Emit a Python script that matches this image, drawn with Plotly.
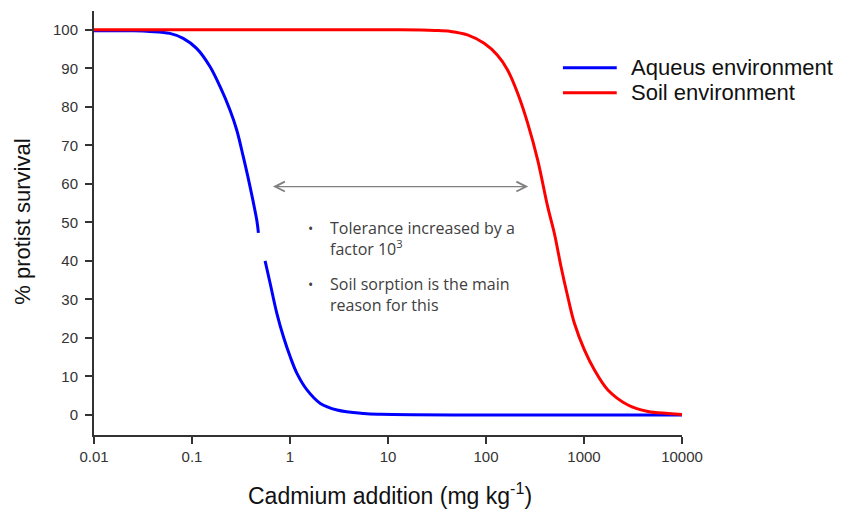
import plotly.graph_objects as go
import math

# ---- data ----
aqueous_x = [0.01, 0.025, 0.0371, 0.0594, 0.0813, 0.1114, 0.1524, 0.193, 0.244, 0.286, 0.334,
             0.391, 0.458, 0.476, None, 0.557, 0.627, 0.734, 0.857, 1.005, 1.177,
             1.49, 2.04, 3.02, 5.65, 8.38, 100, 10000]
aqueous_y = [99.8, 99.75, 99.6, 99.1, 97.8, 95.2, 90.5, 85.3, 79.2, 74.0, 67.0,
             59.3, 50.6, 47.3, None, 40.0, 34.2, 26.4, 20.3, 15.1, 10.8,
             6.5, 3.0, 1.3, 0.4, 0.2, 0.0, 0.0]

soil_x = [0.01, 13.4, 30, 43.6, 64.7, 95.7, 131, 166, 210, 266, 337, 426, 498, 583,
          683, 798, 1009, 1278, 1753, 2808, 4497, 7208, 10000]
soil_y = [100, 100, 99.85, 99.6, 98.7, 96.5, 93.4, 89.6, 83.6, 75.8, 66.2, 54.1, 47.2, 38.5,
          30.7, 23.8, 16.9, 11.7, 6.5, 2.6, 0.9, 0.4, 0.1]

series_names = ["Aqueus environment", "Soil environment"]
series_colors = ["#0000FF", "#FF0000"]

x_tickvals = [0.01, 0.1, 1, 10, 100, 1000, 10000]
x_ticktext = ["0.01", "0.1", "1", "10", "100", "1000", "10000"]
y_tickvals = [0, 10, 20, 30, 40, 50, 60, 70, 80, 90, 100]

arrow_x = [0.647, 270]      # arrow ends (mg/kg)
arrow_y = 59.3

note_texts = ["Tolerance increased by a<br>factor 10<sup>3</sup>",
              "Soil sorption is the main<br>reason for this"]
note_y = [45.9, 31.2]
note_x = 2.43

fig = go.Figure()
fig.add_trace(go.Scatter(x=aqueous_x, y=aqueous_y, mode="lines", name=series_names[0],
                         line=dict(color=series_colors[0], width=3, shape="spline", smoothing=1.0),
                         connectgaps=False, showlegend=False))
fig.add_trace(go.Scatter(x=soil_x, y=soil_y, mode="lines", name=series_names[1],
                         line=dict(color=series_colors[1], width=3, shape="spline", smoothing=1.0),
                         showlegend=False))

font_main = "Liberation Sans, Arial, sans-serif"
font_note = "Open Sans, Lato, sans-serif"

# double-headed arrow
fig.add_annotation(x=math.log10(arrow_x[1]), y=arrow_y, ax=math.log10(arrow_x[0]), ay=arrow_y,
                   xref="x", yref="y", axref="x", ayref="y", text="", showarrow=True,
                   arrowhead=5, startarrowhead=5, arrowside="end+start", arrowsize=1.6,
                   startarrowsize=1.6, arrowwidth=1.2, arrowcolor="#808080", standoff=0, startstandoff=0)

# bullet text
for t, yy in zip(note_texts, note_y):
    fig.add_annotation(x=math.log10(note_x), y=yy, xref="x", yref="y", text=t,
                       showarrow=False, xanchor="left", yanchor="middle", align="left",
                       font=dict(family=font_note, size=16, color="#404040"))
    fig.add_annotation(x=math.log10(note_x), y=yy, xref="x", yref="y", text="•",
                       showarrow=False, xanchor="right", yanchor="middle", xshift=-13, yshift=10,
                       font=dict(family=font_note, size=14, color="#404040"))

# custom legend
leg_y = [0.866, 0.807]
for name, col, ly in zip(series_names, series_colors, leg_y):
    fig.add_shape(type="line", xref="paper", yref="paper", x0=0.7975, x1=0.889, y0=ly, y1=ly,
                  line=dict(color=col, width=3))
    fig.add_annotation(x=0.91, y=ly, xref="paper", yref="paper", text=name, showarrow=False,
                       xanchor="left", yanchor="middle",
                       font=dict(family=font_main, size=22, color="#111111"))

# axis titles
fig.add_annotation(x=-0.1215, y=0.502, xref="paper", yref="paper", text="% protist survival",
                   showarrow=False, textangle=-90, xanchor="center", yanchor="middle",
                   font=dict(family=font_main, size=22, color="#111111"))
fig.add_annotation(x=0.503, y=-0.139, xref="paper", yref="paper",
                   text="Cadmium addition (mg kg<sup>-1</sup>)",
                   showarrow=False, xanchor="center", yanchor="middle",
                   font=dict(family=font_main, size=23, color="#111111"))

fig.update_layout(
    width=846, height=510,
    margin=dict(l=94, r=164, t=11, b=75),
    paper_bgcolor="white", plot_bgcolor="white",
    showlegend=False,
    font=dict(family=font_main, size=15, color="#333333"),
)
fig.update_xaxes(type="log", range=[-2, 4], tickvals=x_tickvals, ticktext=x_ticktext,
                 showline=True, linecolor="#333333", linewidth=2, ticks="outside",
                 ticklen=7, tickwidth=1.5, tickcolor="#333333", showgrid=False, zeroline=False,
                 ticklabelstandoff=0, tickfont=dict(size=15, color="#333333"))
fig.update_yaxes(range=[-5.2, 104.9], tickvals=y_tickvals,
                 showline=True, linecolor="#333333", linewidth=2, ticks="outside",
                 ticklen=7, tickwidth=1.5, tickcolor="#333333", showgrid=False, zeroline=False,
                 ticklabelstandoff=4, tickfont=dict(size=15, color="#333333"))

fig.write_html("out.html")
